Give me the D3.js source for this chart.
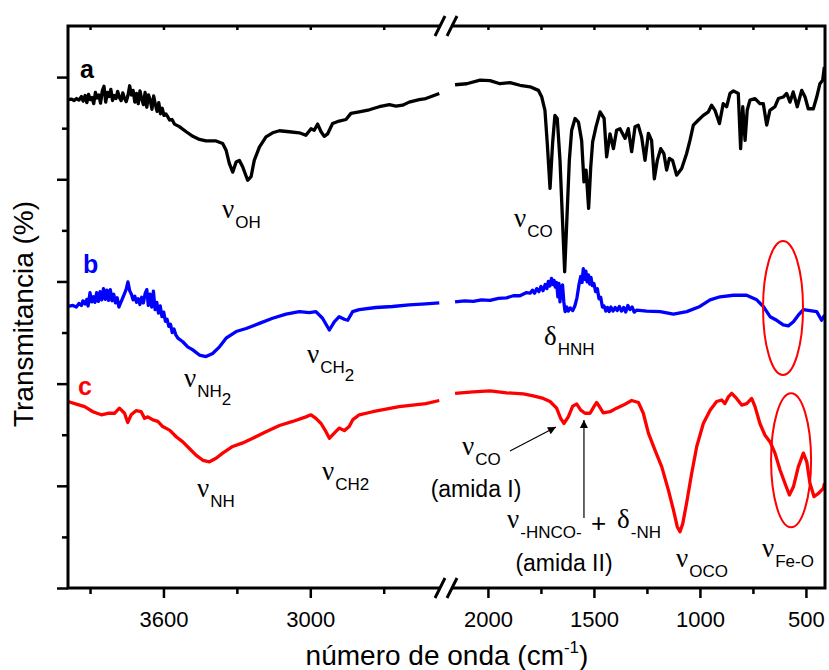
<!DOCTYPE html>
<html>
<head>
<meta charset="utf-8">
<script src="https://cdn.jsdelivr.net/npm/d3@7"></script>
<style>
  body { margin: 0; background: #fff; }
  text { font-family: Arial, "Liberation Sans", sans-serif; }
</style>
</head>
<body>
<div id="chart"></div>
<script>
// FTIR spectra, wavenumber (cm-1) vs transmittance (offset, arb.)
// high wavenumber part (left of the break)
var specA_high = [[3990,95.6],[3975,95.7],[3965,95.4],[3955,95.8],[3945,95.5],[3935,96.2],[3928,95.3],[3920,96.4],[3913,95.0],[3906,96.6],[3899,95.6],[3892,96.0],[3885,94.8],[3878,97.0],[3871,95.9],[3864,96.5],[3857,94.9],[3850,97.3],[3843,98.2],[3836,95.1],[3829,97.0],[3822,96.2],[3815,97.6],[3808,95.4],[3801,96.4],[3794,95.8],[3787,97.2],[3780,96.0],[3773,95.4],[3766,96.9],[3759,95.8],[3752,95.2],[3745,96.4],[3738,98.3],[3731,96.5],[3724,97.4],[3717,95.1],[3710,96.8],[3703,94.8],[3696,97.3],[3689,95.8],[3682,94.6],[3675,97.0],[3668,94.1],[3661,96.5],[3654,95.5],[3647,93.7],[3640,96.3],[3633,94.6],[3626,93.3],[3619,95.0],[3612,92.8],[3605,93.9],[3598,92.5],[3590,92.8],[3582,92.2],[3575,91.6],[3565,91.7],[3555,90.8],[3535,90.3],[3507,89.3],[3480,88.4],[3453,87.8],[3426,87.5],[3385,87.5],[3358,87.0],[3344,85.7],[3331,83.1],[3317,81.4],[3303,83.4],[3290,83.7],[3276,82.4],[3256,79.8],[3242,80.5],[3229,83.7],[3208,86.3],[3181,88.3],[3154,89.1],[3126,89.5],[3086,89.3],[3045,89.1],[3018,88.6],[2997,89.9],[2984,89.6],[2970,90.8],[2956,89.3],[2943,88.4],[2929,88.9],[2909,90.9],[2882,91.4],[2854,91.7],[2834,92.9],[2800,93.2],[2759,93.6],[2718,94.2],[2677,94.6],[2650,94.3],[2623,94.5],[2596,95.1],[2555,95.6],[2528,95.8],[2500,96.3],[2473,96.8]];

var specB_high = [[3990,55.1],[3970,55.3],[3956,55.0],[3945,55.7],[3935,55.3],[3929,56.2],[3920,55.6],[3913,56.5],[3908,55.2],[3900,57.8],[3893,56.0],[3886,57.0],[3880,55.9],[3873,57.8],[3866,56.1],[3859,58.0],[3852,56.4],[3845,58.6],[3838,56.5],[3831,58.3],[3824,56.3],[3817,58.4],[3810,56.2],[3803,57.5],[3796,55.8],[3789,56.8],[3782,55.0],[3775,55.8],[3768,56.6],[3760,57.5],[3752,58.5],[3745,59.9],[3738,58.2],[3731,57.5],[3724,56.4],[3717,57.1],[3710,55.9],[3703,56.6],[3696,55.5],[3689,56.9],[3682,55.8],[3675,57.6],[3668,58.4],[3662,55.3],[3655,57.5],[3648,55.0],[3641,58.1],[3634,54.5],[3627,55.9],[3620,53.8],[3613,55.2],[3606,53.1],[3599,54.0],[3592,52.2],[3585,52.6],[3578,51.2],[3571,51.6],[3564,50.0],[3557,50.7],[3550,49.6],[3541,48.9],[3521,48.2],[3501,47.2],[3480,46.6],[3453,45.6],[3426,45.3],[3399,45.9],[3371,47.2],[3344,48.9],[3303,50.2],[3262,50.8],[3208,51.8],[3154,52.8],[3099,53.6],[3045,54.1],[3004,53.9],[2977,54.1],[2950,52.8],[2922,50.5],[2902,52.1],[2882,53.1],[2861,52.6],[2847,52.4],[2827,54.1],[2800,54.5],[2732,54.9],[2664,55.1],[2596,55.4],[2528,55.6],[2473,55.8]];

var specC_high = [[3990,36.5],[3956,36.0],[3922,35.5],[3888,34.5],[3854,33.9],[3827,34.2],[3800,34.2],[3780,35.2],[3759,34.2],[3746,32.4],[3732,33.9],[3712,34.7],[3691,34.5],[3677,33.2],[3664,33.5],[3643,32.9],[3623,32.6],[3603,31.6],[3575,30.9],[3548,29.6],[3521,28.6],[3494,27.3],[3467,26.0],[3439,25.0],[3412,24.7],[3385,25.4],[3358,26.4],[3317,27.7],[3276,28.4],[3235,29.3],[3181,30.6],[3126,31.8],[3072,32.6],[3018,33.5],[2997,33.9],[2977,33.2],[2956,32.2],[2936,30.6],[2922,29.3],[2902,30.3],[2882,31.3],[2861,30.8],[2841,31.6],[2827,32.9],[2800,33.9],[2745,34.5],[2691,35.0],[2637,35.5],[2582,35.8],[2528,36.1],[2473,36.7]];

// low wavenumber part (right of the break)
var specA_low = [[2155,98.5],[2100,98.7],[2037,99.4],[1990,99.3],[1943,98.7],[1896,98.9],[1849,98.4],[1801,98.1],[1762,97.4],[1746,96.1],[1731,93.5],[1720,87.0],[1707,78.2],[1695,87.0],[1684,92.5],[1673,91.9],[1660,83.7],[1647,70.7],[1638,61.9],[1629,70.7],[1616,83.7],[1605,89.6],[1589,91.9],[1573,91.2],[1558,87.6],[1547,79.5],[1537,81.8],[1525,74.3],[1515,82.4],[1506,87.3],[1490,90.3],[1471,93.2],[1452,91.9],[1440,84.4],[1424,88.9],[1408,86.0],[1393,89.6],[1377,89.9],[1353,88.0],[1338,89.9],[1322,85.4],[1306,90.3],[1291,90.6],[1275,88.3],[1259,83.7],[1243,89.0],[1228,87.6],[1215,80.1],[1201,83.7],[1185,86.0],[1170,85.0],[1157,81.8],[1144,84.1],[1129,83.7],[1110,80.8],[1086,82.1],[1063,85.0],[1047,87.6],[1031,90.6],[1007,91.6],[984,92.5],[960,93.2],[945,94.5],[929,93.5],[908,90.9],[890,94.8],[874,94.2],[858,96.8],[842,97.3],[819,96.8],[808,86.0],[798,94.2],[787,87.6],[777,93.5],[764,95.5],[740,95.8],[717,94.8],[701,94.8],[685,90.6],[670,93.5],[646,94.2],[630,95.8],[607,96.1],[591,96.8],[575,95.1],[560,97.1],[541,94.2],[520,97.4],[504,96.1],[489,93.8],[465,93.8],[449,96.1],[434,98.7],[421,99.4],[413,102.0]];

var specB_low = [[2155,56.0],[2110,56.2],[2069,56.1],[2030,56.4],[1990,56.3],[1950,56.7],[1912,56.8],[1880,57.2],[1849,57.2],[1820,57.8],[1801,57.7],[1790,58.3],[1780,57.7],[1770,58.6],[1760,58.0],[1750,59.0],[1740,58.2],[1730,59.4],[1722,58.6],[1715,60.0],[1708,59.1],[1700,60.6],[1694,59.4],[1688,60.2],[1682,58.9],[1676,59.8],[1670,57.0],[1665,59.6],[1660,56.0],[1654,58.8],[1648,59.3],[1642,56.0],[1636,54.1],[1628,55.0],[1621,54.2],[1612,54.8],[1600,54.3],[1590,55.2],[1580,56.8],[1570,59.5],[1562,61.0],[1556,59.8],[1550,62.5],[1544,60.4],[1538,62.0],[1532,59.9],[1526,61.3],[1520,59.5],[1514,60.8],[1508,59.2],[1500,59.6],[1492,58.0],[1484,58.6],[1476,56.6],[1468,56.9],[1460,55.0],[1452,55.2],[1444,54.2],[1436,54.9],[1428,54.1],[1420,55.0],[1410,54.2],[1400,54.9],[1390,54.3],[1380,55.1],[1370,54.2],[1360,54.9],[1350,54.0],[1340,55.3],[1330,54.5],[1320,55.0],[1310,54.0],[1298,54.4],[1251,54.2],[1188,54.1],[1125,53.6],[1062,54.1],[1000,55.1],[952,56.4],[905,57.0],[842,57.3],[780,57.3],[732,56.4],[701,55.1],[669,53.1],[638,52.4],[607,51.5],[583,51.3],[559,52.1],[536,53.4],[512,54.5],[481,54.3],[449,54.1],[426,52.4],[412,53.4]];

var specC_low = [[2155,38.1],[2069,38.4],[1990,38.6],[1912,38.2],[1833,38.0],[1786,37.6],[1739,37.1],[1707,36.5],[1676,35.2],[1657,33.2],[1641,32.2],[1621,33.5],[1600,35.6],[1581,36.0],[1562,34.8],[1542,34.2],[1518,34.2],[1500,35.5],[1487,36.3],[1474,35.5],[1456,34.3],[1424,34.5],[1393,35.2],[1361,35.8],[1322,36.7],[1290,36.3],[1267,34.2],[1243,30.3],[1212,27.0],[1180,23.7],[1149,19.2],[1125,15.3],[1107,12.0],[1094,11.0],[1081,12.6],[1063,16.6],[1039,22.4],[1015,27.7],[984,32.2],[952,34.8],[921,36.5],[897,36.8],[882,36.1],[866,37.4],[850,38.1],[827,37.1],[803,35.8],[779,36.1],[756,37.1],[740,35.5],[717,32.2],[693,29.9],[669,28.6],[646,26.4],[622,23.1],[599,20.5],[578,18.2],[559,19.8],[536,23.7],[512,26.4],[496,24.7],[481,20.5],[462,17.9],[441,18.5],[418,19.5],[412,20.5]];

var highMajor = [3600, 3000];
var highMinor = [3900, 3300, 2700];
var lowMajor = [2000, 1500, 1000, 500];
var lowMinor = [1750, 1250, 750];
var yMajor = [0, 20, 40, 60, 80, 100];
var yMinor = [10, 30, 50, 70, 90];

var width = 829, height = 670;
var plotTop = 26, plotBottom = 588, plotLeft = 68, plotRight = 825;

var svg = d3.select("#chart").append("svg")
    .attr("width", width)
    .attr("height", height);

var xHigh = d3.scaleLinear().domain([3990, 2470]).range([plotLeft, 440]);
var xLow = d3.scaleLinear().domain([2160, 410]).range([454, plotRight]);
var y = d3.scaleLinear().domain([0, 110]).range([plotBottom, plotTop]);

// spectra
var lineHigh = d3.line().x(d => xHigh(d[0])).y(d => y(d[1]));
var lineLow = d3.line().x(d => xLow(d[0])).y(d => y(d[1]));

var series = [
    { hi: specA_high, lo: specA_low, color: "#000000" },
    { hi: specB_high, lo: specB_low, color: "#0000ff" },
    { hi: specC_high, lo: specC_low, color: "#ff0000" }
];

var g = svg.append("g");
series.forEach(function (s) {
    g.append("path").datum(s.hi).attr("d", lineHigh)
        .attr("fill", "none").attr("stroke", s.color)
        .attr("stroke-width", 3.3).attr("stroke-linejoin", "round");
    g.append("path").datum(s.lo).attr("d", lineLow)
        .attr("fill", "none").attr("stroke", s.color)
        .attr("stroke-width", 3.3).attr("stroke-linejoin", "round");
});

// axes
function styleAxis(sel) {
    sel.select(".domain").remove();
    sel.selectAll("line").attr("stroke", "#000").attr("stroke-width", 2.5);
    sel.selectAll("text").attr("font-size", 22).attr("fill", "#000")
        .attr("font-family", "Arial, 'Liberation Sans', sans-serif");
}

[[xHigh, highMajor, highMinor], [xLow, lowMajor, lowMinor]].forEach(function (a) {
    svg.append("g").attr("transform", "translate(0," + plotBottom + ")")
        .call(d3.axisBottom(a[0]).tickValues(a[1]).tickSize(10).tickPadding(13).tickFormat(d3.format("d")))
        .call(styleAxis);
    svg.append("g").attr("transform", "translate(0," + plotBottom + ")")
        .call(d3.axisBottom(a[0]).tickValues(a[2]).tickSize(6).tickFormat(""))
        .call(styleAxis);
    svg.append("g").attr("transform", "translate(0," + plotTop + ")")
        .call(d3.axisBottom(a[0]).tickValues(a[1].concat(a[2])).tickSize(4).tickFormat(""))
        .call(styleAxis);
});

svg.append("g").attr("transform", "translate(" + plotLeft + ",0)")
    .call(d3.axisLeft(y).tickValues(yMajor).tickSize(11).tickFormat(""))
    .call(styleAxis);
svg.append("g").attr("transform", "translate(" + plotLeft + ",0)")
    .call(d3.axisLeft(y).tickValues(yMinor).tickSize(6).tickFormat(""))
    .call(styleAxis);

// frame
svg.append("rect")
    .attr("x", plotLeft).attr("y", plotTop)
    .attr("width", plotRight - plotLeft).attr("height", plotBottom - plotTop)
    .attr("fill", "none").attr("stroke", "#000").attr("stroke-width", 3);

// axis break marks
[plotTop, plotBottom].forEach(function (yy) {
    svg.append("rect").attr("x", 441).attr("y", yy - 3).attr("width", 10).attr("height", 6).attr("fill", "#fff");
    [440, 452].forEach(function (xx) {
        svg.append("line")
            .attr("x1", xx - 5).attr("y1", yy + 10)
            .attr("x2", xx + 5).attr("y2", yy - 10)
            .attr("stroke", "#000").attr("stroke-width", 3);
    });
});

// axis titles
var xTitle = svg.append("text")
    .attr("x", 447).attr("y", 665)
    .attr("text-anchor", "middle").attr("font-size", 28);
xTitle.append("tspan").text("número de onda (cm");
xTitle.append("tspan").attr("font-size", 17).attr("dy", -12).text("-1");
xTitle.append("tspan").attr("dy", 12).text(")");

svg.append("text")
    .attr("transform", "translate(33,314) rotate(-90)")
    .attr("text-anchor", "middle").attr("font-size", 28)
    .text("Transmitancia (%)");

// series letters
[["a", 80, 78, "#000000"], ["b", 83, 273, "#0000ff"], ["c", 78, 395, "#ff0000"]].forEach(function (l) {
    svg.append("text").attr("x", l[1]).attr("y", l[2])
        .attr("font-size", 25).attr("font-weight", "bold").attr("fill", l[3]).text(l[0]);
});

// band labels: greek symbol + subscript
var bandLabels = [
    { sym: "ν", sub: "OH", x: 222, y: 218 },
    { sym: "ν", sub: "CO", x: 514, y: 227 },
    { sym: "δ", sub: "HNH", x: 544, y: 345 },
    { sym: "ν", sub: "NH", sub2: "2", x: 184, y: 387 },
    { sym: "ν", sub: "CH", sub2: "2", x: 307, y: 363 },
    { sym: "ν", sub: "NH", x: 197, y: 497 },
    { sym: "ν", sub: "CH", sub2: "2", x: 322, y: 480, flat: true },
    { sym: "ν", sub: "CO", x: 462, y: 455 },
    { sym: "ν", sub: "-HNCO-", x: 507, y: 528 },
    { sym: "δ", sub: "-NH", x: 617, y: 528 },
    { sym: "ν", sub: "OCO", x: 676, y: 567 },
    { sym: "ν", sub: "Fe-O", x: 762, y: 557 }
];

bandLabels.forEach(function (b) {
    var t = svg.append("text").attr("x", b.x).attr("y", b.y).attr("font-size", 17).attr("fill", "#000");
    t.append("tspan").attr("font-family", "'Liberation Serif', 'Times New Roman', serif")
        .attr("font-size", 27).text(b.sym);
    t.append("tspan").attr("dx", 1).attr("dy", 10).text(b.sub);
    if (b.sub2) {
        t.append("tspan").attr("dy", b.flat ? 0 : 8).text(b.sub2);
    }
});

svg.append("text").attr("x", 591).attr("y", 532).attr("font-size", 26).text("+");
svg.append("text").attr("x", 476).attr("y", 497).attr("font-size", 23).attr("text-anchor", "middle").text("(amida I)");
svg.append("text").attr("x", 564).attr("y", 571).attr("font-size", 23).attr("text-anchor", "middle").text("(amida II)");

// arrows
var defs = svg.append("defs");
defs.append("marker").attr("id", "head")
    .attr("viewBox", "0 0 10 10").attr("refX", 10).attr("refY", 5)
    .attr("markerWidth", 12).attr("markerHeight", 8).attr("markerUnits", "userSpaceOnUse")
    .attr("orient", "auto")
    .append("path").attr("d", "M0,0 L10,5 L0,10 Z").attr("fill", "#000");

var arrows = [
    { from: [1896, 26.8], to: [1679, 31.5] },
    { from: [1547, 13.7], to: [1547, 32.9] }
];
arrows.forEach(function (a) {
    svg.append("line")
        .attr("x1", xLow(a.from[0])).attr("y1", y(a.from[1]))
        .attr("x2", xLow(a.to[0])).attr("y2", y(a.to[1]))
        .attr("stroke", "#000").attr("stroke-width", 1.2)
        .attr("marker-end", "url(#head)");
});

// highlight ellipses around the Fe-O region
var rings = [
    { wn: 608, t: 54.8 },
    { wn: 570, t: 25.0 }
];
rings.forEach(function (r) {
    svg.append("ellipse")
        .attr("cx", xLow(r.wn)).attr("cy", y(r.t))
        .attr("rx", 20).attr("ry", 67)
        .attr("fill", "none").attr("stroke", "#ff0000").attr("stroke-width", 2);
});
</script>
</body>
</html>
